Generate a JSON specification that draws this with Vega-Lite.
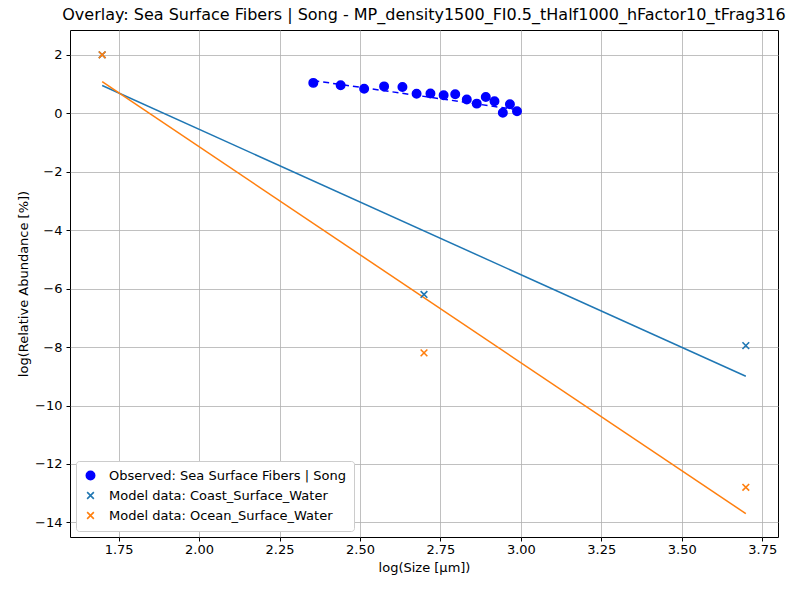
{
  "$schema": "https://vega.github.io/schema/vega-lite/v6.json",
  "width": 708,
  "height": 507,
  "autosize": "none",
  "padding": {"left": 70, "top": 30, "right": 30, "bottom": 53},
  "background": "white",
  "config": {
    "font": "DejaVu Sans",
    "view": {"stroke": "black", "strokeWidth": 1},
    "axis": {"gridColor": "#b0b0b0", "gridOpacity": 1, "gridWidth": 0.8, "domain": false, "tickColor": "black", "tickSize": 4, "labelColor": "black", "titleColor": "black", "labelFontSize": 13, "titleFontSize": 13, "titleFontWeight": "normal", "labelFont": "DejaVu Sans", "titleFont": "DejaVu Sans"}
  },
  "title": {"text": "Overlay: Sea Surface Fibers | Song - MP_density1500_FI0.5_tHalf1000_hFactor10_tFrag316", "fontSize": 16, "fontWeight": "normal", "font": "DejaVu Sans", "offset": 7},
  "encoding": {
    "x": {"type": "quantitative", "scale": {"domain": [1.599, 3.799], "nice": false, "zero": false}, "axis": {"values": [1.75, 2.0, 2.25, 2.5, 2.75, 3.0, 3.25, 3.5, 3.75], "format": ".2f", "title": "log(Size [µm])", "titlePadding": 5}},
    "y": {"type": "quantitative", "scale": {"domain": [-14.5, 2.85], "nice": false, "zero": false}, "axis": {"values": [-14, -12, -10, -8, -6, -4, -2, 0, 2], "title": "log(Relative Abundance [%])", "labelPadding": 4}}
  },
  "layer": [
    {
      "data": {"values": [{"x": 1.699, "y": 0.95}, {"x": 3.699, "y": -9.0}]},
      "mark": {"type": "line", "color": "#1f77b4", "strokeWidth": 1.5},
      "encoding": {"x": {"field": "x"}, "y": {"field": "y"}}
    },
    {
      "data": {"values": [{"x": 1.699, "y": 1.08}, {"x": 3.699, "y": -13.7}]},
      "mark": {"type": "line", "color": "#ff7f0e", "strokeWidth": 1.5},
      "encoding": {"x": {"field": "x"}, "y": {"field": "y"}}
    },
    {
      "data": {"values": [{"x": 2.355, "y": 1.12}, {"x": 2.99, "y": 0.12}]},
      "mark": {"type": "line", "color": "blue", "strokeWidth": 1.5, "strokeDash": [6, 4]},
      "encoding": {"x": {"field": "x"}, "y": {"field": "y"}}
    },
    {
      "data": {"values": [
        {"s": "Observed: Sea Surface Fibers | Song", "x": 2.355, "y": 1.04},
        {"s": "Observed: Sea Surface Fibers | Song", "x": 2.44, "y": 0.96},
        {"s": "Observed: Sea Surface Fibers | Song", "x": 2.513, "y": 0.84},
        {"s": "Observed: Sea Surface Fibers | Song", "x": 2.575, "y": 0.92},
        {"s": "Observed: Sea Surface Fibers | Song", "x": 2.632, "y": 0.9},
        {"s": "Observed: Sea Surface Fibers | Song", "x": 2.676, "y": 0.67},
        {"s": "Observed: Sea Surface Fibers | Song", "x": 2.719, "y": 0.68},
        {"s": "Observed: Sea Surface Fibers | Song", "x": 2.76, "y": 0.62},
        {"s": "Observed: Sea Surface Fibers | Song", "x": 2.796, "y": 0.65},
        {"s": "Observed: Sea Surface Fibers | Song", "x": 2.832, "y": 0.47},
        {"s": "Observed: Sea Surface Fibers | Song", "x": 2.863, "y": 0.33},
        {"s": "Observed: Sea Surface Fibers | Song", "x": 2.891, "y": 0.56},
        {"s": "Observed: Sea Surface Fibers | Song", "x": 2.918, "y": 0.41},
        {"s": "Observed: Sea Surface Fibers | Song", "x": 2.944, "y": 0.02},
        {"s": "Observed: Sea Surface Fibers | Song", "x": 2.966, "y": 0.31},
        {"s": "Observed: Sea Surface Fibers | Song", "x": 2.988, "y": 0.07},
        {"s": "Model data: Coast_Surface_Water", "x": 1.699, "y": 2.0},
        {"s": "Model data: Coast_Surface_Water", "x": 2.699, "y": -6.2},
        {"s": "Model data: Coast_Surface_Water", "x": 3.699, "y": -7.95},
        {"s": "Model data: Ocean_Surface_Water", "x": 1.699, "y": 2.0},
        {"s": "Model data: Ocean_Surface_Water", "x": 2.699, "y": -8.2},
        {"s": "Model data: Ocean_Surface_Water", "x": 3.699, "y": -12.8}
      ]},
      "mark": {"type": "point", "strokeWidth": 1.6, "size": 70, "opacity": 1},
      "encoding": {
        "x": {"field": "x"},
        "y": {"field": "y"},
        "color": {"field": "s", "type": "nominal", "sort": null,
          "scale": {"domain": ["Observed: Sea Surface Fibers | Song", "Model data: Coast_Surface_Water", "Model data: Ocean_Surface_Water"], "range": ["blue", "#1f77b4", "#ff7f0e"]},
          "legend": {"title": null, "orient": "bottom-left", "offset": 6, "padding": 8, "strokeColor": "#cccccc", "fillColor": "white", "cornerRadius": 3, "labelFontSize": 13, "labelFont": "DejaVu Sans", "labelLimit": 400, "labelOffset": 12, "rowPadding": 5, "symbolSize": 70, "symbolStrokeWidth": 1.6}},
        "shape": {"field": "s", "type": "nominal",
          "scale": {"domain": ["Observed: Sea Surface Fibers | Song", "Model data: Coast_Surface_Water", "Model data: Ocean_Surface_Water"], "range": ["circle", "M-0.8,-0.8L0.8,0.8M-0.8,0.8L0.8,-0.8", "M-0.8,-0.8L0.8,0.8M-0.8,0.8L0.8,-0.8"]}},
        "fill": {"field": "s", "type": "nominal", "legend": null,
          "scale": {"domain": ["Observed: Sea Surface Fibers | Song", "Model data: Coast_Surface_Water", "Model data: Ocean_Surface_Water"], "range": ["blue", "transparent", "transparent"]}}
      }
    }
  ]
}
